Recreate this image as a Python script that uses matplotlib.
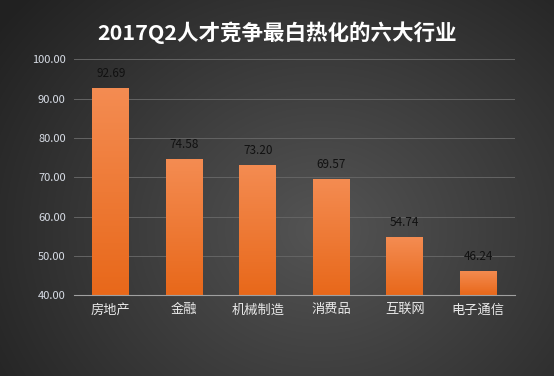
import numpy as np
import matplotlib
matplotlib.use("Agg")
import matplotlib.pyplot as plt
from matplotlib.colors import LinearSegmentedColormap

plt.rcParams['font.family'] = ['Noto Sans CJK SC', 'DejaVu Sans']

categories = ['房地产', '金融', '机械制造', '消费品', '互联网', '电子通信']
values = [92.69, 74.58, 73.20, 69.57, 54.74, 46.24]
yticks = [40, 50, 60, 70, 80, 90, 100]
title = '2017Q2人才竞争最白热化的六大行业'

fig = plt.figure(figsize=(5.54, 3.76), dpi=100)

# radial dark background, lighter towards the lower middle
bg = fig.add_axes([0, 0, 1, 1])
yy, xx = np.mgrid[0:376, 0:554]
r = np.sqrt(((xx - 320) / 380.0) ** 2 + ((yy - 230) / 330.0) ** 2)
shade = np.clip(0.33 - 0.19 * r, 0.13, 0.33)
bg.imshow(np.dstack([shade, shade, shade]), aspect='auto', extent=[0, 1, 0, 1])
bg.axis('off')

ax = fig.add_axes([0.1336, 0.2154, 0.796, 0.6264])
ax.patch.set_alpha(0)
x = np.arange(len(categories))
bars = ax.bar(x, values, width=0.5, color='#ee7a2e', zorder=2)

orange = LinearSegmentedColormap.from_list('o', ['#e8681a', '#f48c52'])
grad = np.linspace(0, 1, 256).reshape(-1, 1)
for b, v in zip(bars, values):
    x0 = b.get_x()
    im = ax.imshow(grad, cmap=orange, origin='lower', aspect='auto',
                   extent=[x0, x0 + b.get_width(), 40, v], zorder=3)
    im.set_clip_path(b)
    ax.text(b.get_x() + b.get_width() / 2, v + 2, f'{v:.2f}', ha='center',
            va='bottom', fontsize=8.5, color='#111111', zorder=4)

ax.set_xlim(-0.5, len(categories) - 0.5)
ax.set_ylim(40, 100)
ax.set_yticks(yticks)
ax.set_yticklabels([f'{t:.2f}' for t in yticks], color='#d8dde6', fontsize=8)
ax.set_xticks(x)
ax.set_xticklabels(categories, color='#e8e8e8', fontsize=9.5)
ax.tick_params(length=0, pad=6)
ax.grid(axis='y', color='#646464', linewidth=0.7, zorder=0)
for s in ['top', 'right', 'left']:
    ax.spines[s].set_visible(False)
ax.spines['bottom'].set_color('#a0a0a0')
ax.spines['bottom'].set_zorder(5)

fig.text(0.5, 0.912, title, ha='center', va='center', fontsize=15.5,
         fontweight='bold', color='white')

fig.savefig('out.png', dpi=100)
